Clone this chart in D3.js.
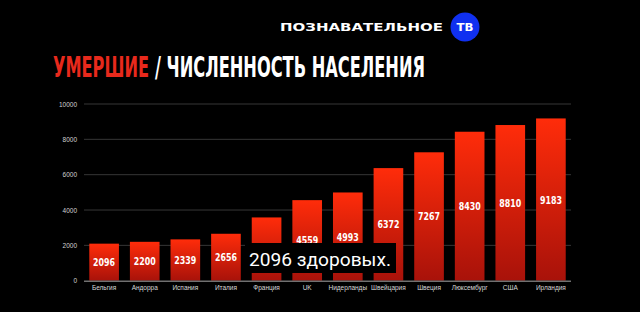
<!DOCTYPE html>
<html><head><meta charset="utf-8">
<script src="https://cdn.jsdelivr.net/npm/d3@7"></script>
<style>html,body{margin:0;padding:0;background:#000;}svg{display:block;}</style>
</head><body>
<svg id="c" width="640" height="312"></svg>
<script>
const categories = ["Бельгия","Андорра","Испания","Италия","Франция","UK","Нидерланды","Швейцария","Швеция","Люксембург","США","Ирландия"];
const values = [2096,2200,2339,2656,3580,4559,4993,6372,7267,8430,8810,9183];
const yTicks = [0,2000,4000,6000,8000,10000];
const titleRed = "УМЕРШИЕ";
const titleWhite = "/ ЧИСЛЕННОСТЬ НАСЕЛЕНИЯ";
const logoText = "ПОЗНАВАТЕЛЬНОЕ";
const logoBadge = "ТВ";
const caption = "2096 здоровых.";

const svg = d3.select("#c");
svg.append("rect").attr("width",640).attr("height",312).attr("fill","#000");

const defs = svg.append("defs");
const g = defs.append("linearGradient").attr("id","bar").attr("x1",0).attr("y1",0).attr("x2",0).attr("y2",1);
g.append("stop").attr("offset","0%").attr("stop-color","#ff2c0a");
g.append("stop").attr("offset","100%").attr("stop-color","#a8120a");

const x = d3.scaleBand().domain(categories).range([84,571]).paddingInner(0.27).paddingOuter(0.13);
const y = d3.scaleLinear().domain([0,10000]).range([280.7,104]);

// gridlines
svg.append("g").selectAll("line").data(yTicks.filter(d=>d>0)).join("line")
  .attr("x1",84).attr("x2",571).attr("y1",d=>y(d)).attr("y2",d=>y(d))
  .attr("stroke","#363636").attr("stroke-width",1);

// y tick labels
svg.append("g").selectAll("text").data(yTicks).join("text")
  .attr("x",77).attr("y",d=>y(d)+2.5).attr("text-anchor","end")
  .attr("fill","#d0d0d0").attr("font-family","Liberation Sans, Arial, sans-serif")
  .attr("font-size",6.5).text(d=>d);

// bars
svg.append("g").selectAll("rect").data(values).join("rect")
  .attr("x",(d,i)=>x(categories[i])).attr("width",x.bandwidth())
  .attr("y",d=>y(d)).attr("height",d=>y(0)-y(d)).attr("fill","url(#bar)");

// axis line
svg.append("line").attr("x1",84).attr("x2",571).attr("y1",y(0)+0.5).attr("y2",y(0)+0.5)
  .attr("stroke","#707070").attr("stroke-width",1.5);

// value labels
svg.append("g").selectAll("text").data(values).join("text")
  .attr("x",(d,i)=>x(categories[i])+x.bandwidth()/2)
  .attr("y",d=>(y(d)+y(0))/2+4)
  .attr("text-anchor","middle").attr("fill","#fff")
  .attr("font-family","DejaVu Sans Condensed, DejaVu Sans, sans-serif").attr("font-weight","bold")
  .attr("font-size",10.5).attr("textLength",22).attr("lengthAdjust","spacingAndGlyphs").text(d=>d);

// x labels
svg.append("g").selectAll("text").data(categories).join("text")
  .attr("x",d=>x(d)+x.bandwidth()/2).attr("y",290)
  .attr("text-anchor","middle").attr("fill","#d8d8d8")
  .attr("font-family","Liberation Sans, Arial, sans-serif").attr("font-size",6.5).text(d=>d);

// title
const tf = "DejaVu Sans Condensed, Liberation Sans Narrow, sans-serif";
svg.append("text").attr("x",53).attr("y",77).attr("fill","#e8291c")
  .attr("font-family",tf).attr("font-weight","bold").attr("font-size",29)
  .attr("textLength",96).attr("lengthAdjust","spacingAndGlyphs").text(titleRed);
svg.append("text").attr("x",155).attr("y",77).attr("fill","#fff")
  .attr("font-family",tf).attr("font-weight","bold").attr("font-size",29)
  .attr("textLength",270).attr("lengthAdjust","spacingAndGlyphs").text(titleWhite);

// logo
svg.append("text").attr("x",280).attr("y",31).attr("fill","#fff")
  .attr("font-family","DejaVu Sans, sans-serif").attr("font-weight","bold").attr("font-size",11)
  .attr("textLength",163).attr("lengthAdjust","spacingAndGlyphs").text(logoText);
svg.append("circle").attr("cx",465).attr("cy",27).attr("r",14.5).attr("fill","#1030f0");
svg.append("text").attr("x",465).attr("y",31).attr("text-anchor","middle").attr("fill","#fff")
  .attr("font-family","DejaVu Sans, sans-serif").attr("font-weight","bold").attr("font-size",11)
  .attr("textLength",17).attr("lengthAdjust","spacingAndGlyphs").text(logoBadge);

// caption overlay
svg.append("rect").attr("x",245).attr("y",243).attr("width",151).attr("height",30).attr("fill","#000");
svg.append("text").attr("x",249).attr("y",266).attr("fill","#fff")
  .attr("font-family","Roboto, sans-serif").attr("font-size",18.5)
  .attr("textLength",142).attr("lengthAdjust","spacingAndGlyphs").text(caption);
</script>
</body></html>
